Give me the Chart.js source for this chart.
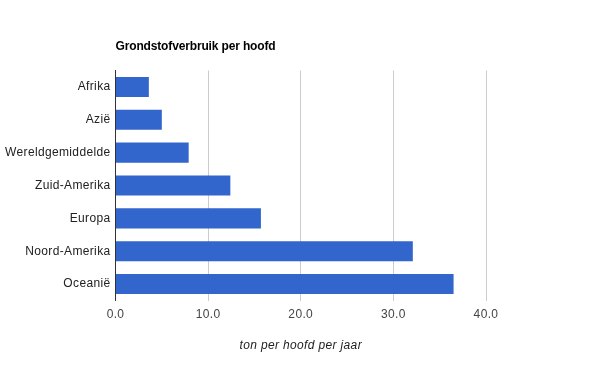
<!DOCTYPE html>
<html><head><meta charset="utf-8">
<script src="https://cdn.jsdelivr.net/npm/chart.js@4"></script>
<style>html,body{margin:0;padding:0;background:#fff}#wrap{width:600px;height:371px}</style>
</head><body><div id="wrap"><canvas id="c" width="600" height="371"></canvas></div>
<script>
const chartTitle = "Grondstofverbruik per hoofd";
const axisTitle = "ton per hoofd per jaar";
const categories = ["Afrika", "Azië", "Wereldgemiddelde", "Zuid-Amerika", "Europa", "Noord-Amerika", "Oceanië"];
const values = [3.6, 5.0, 7.9, 12.4, 15.7, 32.1, 36.5];
const xMin = 0, xMax = 40, xStep = 10;

const FONT = "Arial, 'Liberation Sans', sans-serif";

const spacingPlugin = {
  id: 'spacing',
  beforeDraw(chart) { chart.ctx.letterSpacing = '0.35px'; }
};

const titlePlugin = {
  id: 'leftTitle',
  afterDraw(chart) {
    const ctx = chart.ctx;
    ctx.save();
    ctx.letterSpacing = '-0.15px';
    ctx.font = "bold 12px " + FONT;
    ctx.fillStyle = "#000";
    ctx.textAlign = "left";
    ctx.textBaseline = "middle";
    ctx.fillText(chartTitle, chart.chartArea.left, 46.5);
    ctx.restore();
  }
};

new Chart(document.getElementById('c'), {
  type: 'bar',
  data: {
    labels: categories,
    datasets: [{
      data: values,
      backgroundColor: '#3366CC',
      borderWidth: 0,
      categoryPercentage: 1.0,
      barPercentage: 0.61
    }]
  },
  options: {
    indexAxis: 'y',
    responsive: false,
    animation: false,
    devicePixelRatio: 1,
    layout: { padding: { left: 0, right: 114, top: 70.5, bottom: 18 } },
    plugins: { legend: { display: false }, tooltip: { enabled: false }, title: { display: false } },
    scales: {
      x: {
        min: xMin, max: xMax,
        afterFit: s => { s.height = 52.5; },
        ticks: {
          stepSize: xStep,
          padding: 6.5,
          color: '#444',
          font: { family: FONT, size: 12 },
          callback: v => Number(v).toFixed(1)
        },
        grid: {
          drawTicks: false,
          color: ctx => (ctx.tick && ctx.tick.value === 0) ? 'rgba(0,0,0,0)' : '#cccccc',
          lineWidth: 1
        },
        border: { display: false },
        title: {
          display: true,
          text: axisTitle,
          color: '#222',
          font: { family: FONT, size: 12, style: 'italic' },
          padding: { top: 16, bottom: 0 }
        }
      },
      y: {
        afterFit: s => { s.width = 115.5; },
        ticks: {
          padding: 5,
          color: '#222',
          font: { family: FONT, size: 12 }
        },
        grid: { display: false, drawTicks: false },
        border: { display: true, color: '#333', width: 1 }
      }
    }
  },
  plugins: [spacingPlugin, titlePlugin]
});
</script></body></html>
